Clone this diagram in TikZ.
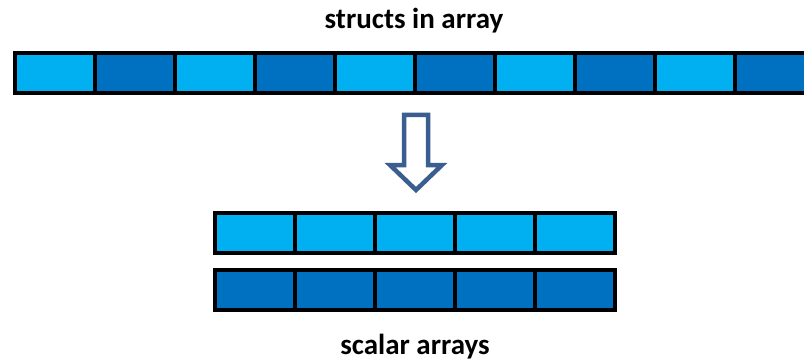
\documentclass[tikz,border=0pt]{standalone}
\usepackage{fontspec}
\setmainfont{Carlito}
\definecolor{lightcell}{RGB}{0,176,240}
\definecolor{darkcell}{RGB}{0,112,192}
\definecolor{arrowblue}{RGB}{59,94,145}
\begin{document}
\begin{tikzpicture}[x=1pt,y=-1pt,
  cell/.style={draw=black,line width=4pt,minimum width=80pt,minimum height=40pt,
    inner sep=0pt,outer sep=0pt,anchor=north west},
  title/.style={font=\bfseries\fontsize{29}{32}\selectfont,inner sep=0pt}]
  \useasboundingbox (0,0) rectangle (804,361);
  % structs in array: alternating light/dark fields
  \foreach \i in {0,...,9}{
    \ifodd\i \def\cellcol{darkcell}\else \def\cellcol{lightcell}\fi
    \node[cell,fill=\cellcol] (s\i) at ({15+80*\i},53) {};
  }
  % scalar arrays
  \foreach \i in {0,...,4}{
    \node[cell,fill=lightcell] (a\i) at ({215+80*\i},213) {};
    \node[cell,fill=darkcell] (b\i) at ({215+80*\i},270) {};
  }
  \node[title] (t1) at (414,21) {structs in array};
  \node[title] (t2) at (415,347) {scalar arrays};
  % hollow down arrow
  \draw[arrowblue,line width=4.5pt,line join=miter,fill=white]
    (404,115) -- (428,115) -- (428,165) -- (442,165) -- (416,190)
    -- (390,165) -- (404,165) -- cycle;
\end{tikzpicture}
\end{document}
